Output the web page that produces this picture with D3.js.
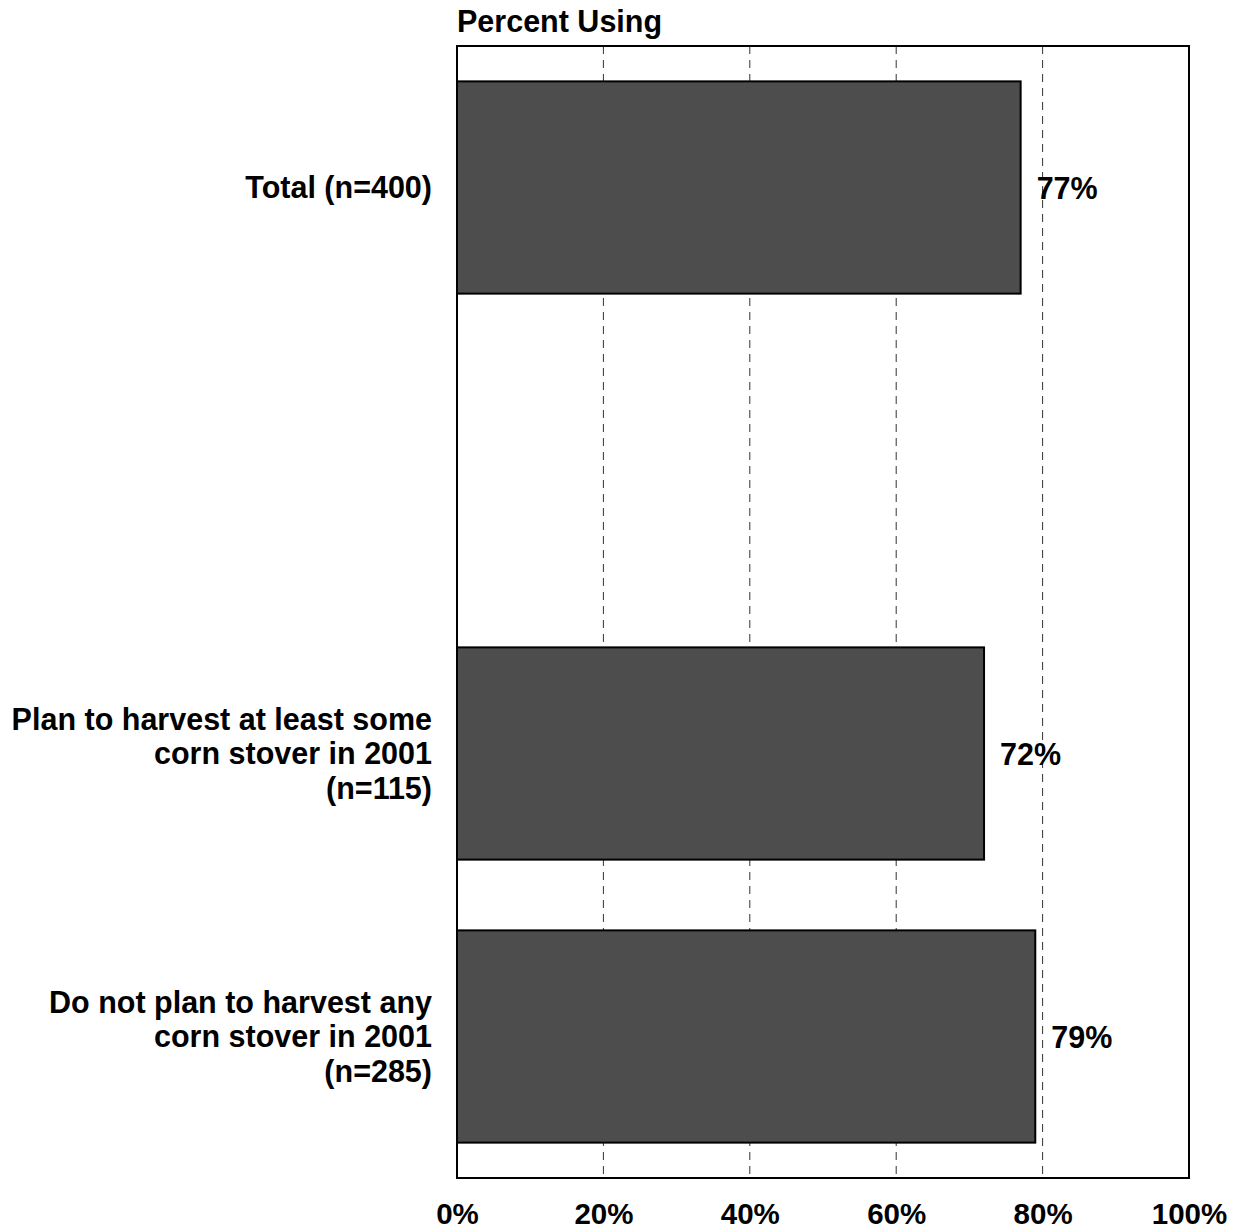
<!DOCTYPE html>
<html><head><meta charset="utf-8">
<script src="https://cdn.jsdelivr.net/npm/d3@7"></script>
<style>body{margin:0;background:#fff}svg{display:block}text{font-family:"Liberation Sans",Arial,sans-serif;font-weight:bold;fill:#000}</style>
</head><body>
<script>
const categories = ["Total (n=400)", "", "Plan to harvest at least some\ncorn stover in 2001\n(n=115)", "Do not plan to harvest any\ncorn stover in 2001\n(n=285)"];
const values = [77, null, 72, 79];
const tickValues = [0, 20, 40, 60, 80, 100];
const gridValues = [20, 40, 60, 80];
const title = "Percent Using";

const W = 1239, H = 1230;
const L = 457, R = 1189, T = 46, B = 1178;
const svg = d3.select("body").append("svg").attr("width", W).attr("height", H);
const x = d3.scaleLinear().domain([0, 100]).range([L, R]);
const y = d3.scaleBand().domain(d3.range(categories.length)).range([T, B]).paddingInner(0.25).paddingOuter(0.125);

svg.append("rect").attr("x", L).attr("y", T).attr("width", R - L).attr("height", B - T).attr("fill", "#fff");

svg.append("g").selectAll("line").data(gridValues).join("line")
  .attr("x1", d => x(d)).attr("x2", d => x(d)).attr("y1", T).attr("y2", B)
  .attr("stroke", "#333").attr("stroke-width", 1).attr("stroke-dasharray", "8,6");

const data = categories.map((c, i) => ({c, v: values[i], i}));
svg.append("g").selectAll("rect").data(data.filter(d => d.v != null)).join("rect")
  .attr("x", x(0)).attr("y", d => y(d.i)).attr("width", d => x(d.v) - x(0)).attr("height", y.bandwidth())
  .attr("fill", "#4d4d4d").attr("stroke", "#000").attr("stroke-width", 2);

svg.append("g").selectAll("text").data(data.filter(d => d.v != null)).join("text")
  .attr("x", d => x(d.v) + 16).attr("y", d => y(d.i) + y.bandwidth() / 2).attr("dy", "0.37em")
  .attr("font-size", 30.5).text(d => d.v + "%");

svg.append("rect").attr("x", L).attr("y", T).attr("width", R - L).attr("height", B - T)
  .attr("fill", "none").attr("stroke", "#000").attr("stroke-width", 2);

const lh = 34.5;
const cat = svg.append("g").selectAll("text").data(data).join("text")
  .attr("text-anchor", "end").attr("font-size", 30.5);
cat.each(function(d) {
  const lines = d.c ? d.c.split("\n") : [];
  const cy = y(d.i) + y.bandwidth() / 2;
  const t = d3.select(this);
  lines.forEach((ln, k) => {
    t.append("tspan").attr("x", L - 25)
      .attr("y", cy + (k - (lines.length - 1) / 2) * lh).attr("dy", "0.36em").text(ln);
  });
});

const xAxis = d3.axisBottom(x).tickValues(tickValues).tickFormat(d => d + "%").tickSize(0).tickPadding(0);
const ax = svg.append("g").attr("transform", `translate(0,${B})`).call(xAxis);
ax.select(".domain").remove();
ax.selectAll("text").attr("font-size", 29.5).attr("y", 46).attr("dy", 0)
  .style("font-family", '"Liberation Sans",Arial,sans-serif').style("font-weight", "bold").attr("fill", "#000");

svg.append("text").attr("x", L).attr("y", 32).attr("font-size", 30.5).text(title);
</script>
</body></html>
